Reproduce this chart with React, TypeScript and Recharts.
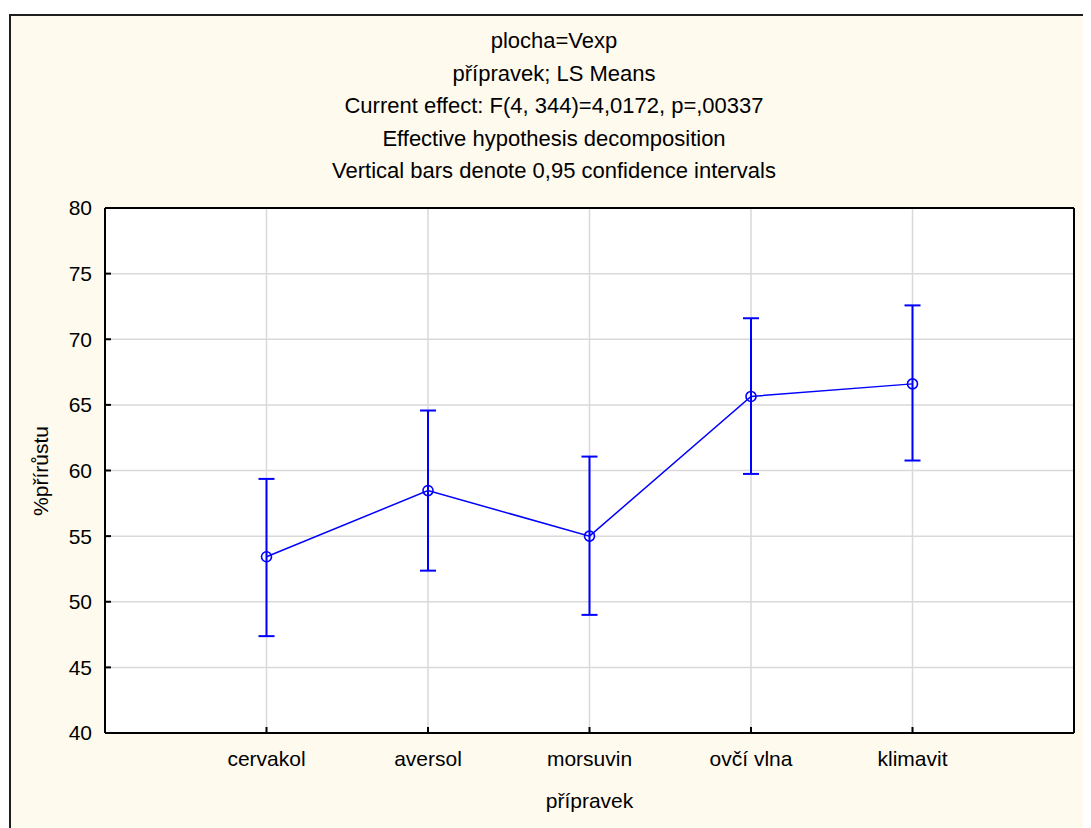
import React from 'react';
import { LineChart, Line, XAxis, YAxis, CartesianGrid, ErrorBar } from 'recharts';

const categories = ['cervakol', 'aversol', 'morsuvin', 'ovčí vlna', 'klimavit'];
const means = [53.43, 58.47, 55.0, 65.64, 66.6];
const lowerCI = [47.38, 52.37, 49.0, 59.74, 60.76];
const upperCI = [59.36, 64.57, 61.06, 71.6, 72.58];
const yTicks = [40, 45, 50, 55, 60, 65, 70, 75, 80];
const xTicks = [1, 2, 3, 4, 5];
const titleLines = [
  'plocha=Vexp',
  'přípravek; LS Means',
  'Current effect: F(4, 344)=4,0172, p=,00337',
  'Effective hypothesis decomposition',
  'Vertical bars denote 0,95 confidence intervals',
];
const xLabel = 'přípravek';
const yLabel = '%přírůstu';

const data = categories.map((c, i) => ({
  x: i + 1,
  name: c,
  mean: means[i],
  ci: [means[i] - lowerCI[i], upperCI[i] - means[i]],
}));

const FONT = '"Liberation Sans", Arial, sans-serif';
const W = 1083;
const H = 820;
const titleBaselines = [40, 72.5, 105, 137.5, 170];

export default function App() {
  return (
    <div style={{ position: 'relative', width: W, height: H, overflow: 'hidden', background: '#fff' }}>
      <div
        style={{
          position: 'absolute',
          left: 1,
          top: 6,
          width: 1200,
          height: 1000,
          border: '2px solid #1e1e1e',
          background: '#FFFAEE',
          boxSizing: 'border-box',
        }}
      />
      <div style={{ position: 'absolute', left: 0, top: 0 }}>
        <LineChart
          width={W}
          height={H}
          data={data}
          margin={{ top: 199, right: 7, bottom: 35, left: 37 }}
        >
          <CartesianGrid
            xAxisId="bottom"
            yAxisId="left"
            fill="#ffffff"
            fillOpacity={1}
            stroke="#d9d9d9"
            strokeWidth={1.5}
          />
          <XAxis
            xAxisId="top"
            orientation="top"
            type="number"
            dataKey="x"
            domain={[0, 6]}
            ticks={xTicks}
            height={1}
            tick={false}
            tickLine={false}
            axisLine={{ stroke: '#000', strokeWidth: 2 }}
          />
          <XAxis
            xAxisId="bottom"
            orientation="bottom"
            type="number"
            dataKey="x"
            domain={[0, 6]}
            ticks={xTicks}
            interval={0}
            height={60}
            tickFormatter={(v: number) => categories[v - 1] ?? ''}
            tickSize={-6}
            tickMargin={24}
            tick={{ fontSize: 21, fill: '#000', fontFamily: FONT }}
            tickLine={{ stroke: '#000', strokeWidth: 2 }}
            axisLine={{ stroke: '#000', strokeWidth: 2 }}
          />
          <YAxis
            yAxisId="left"
            orientation="left"
            type="number"
            domain={[40, 80]}
            ticks={yTicks}
            interval={0}
            width={60}
            tickSize={-6}
            tickMargin={19}
            tick={{ fontSize: 21, fill: '#000', fontFamily: FONT }}
            tickLine={{ stroke: '#000', strokeWidth: 2 }}
            axisLine={{ stroke: '#000', strokeWidth: 2 }}
          />
          <YAxis
            yAxisId="right"
            orientation="right"
            type="number"
            domain={[40, 80]}
            ticks={yTicks}
            interval={0}
            width={10}
            tickSize={-6}
            tick={false}
            tickLine={{ stroke: '#000', strokeWidth: 2 }}
            axisLine={{ stroke: '#000', strokeWidth: 2 }}
          />
          <Line
            xAxisId="bottom"
            yAxisId="left"
            type="linear"
            dataKey="mean"
            stroke="#0000ff"
            strokeWidth={1.5}
            dot={{ r: 5, stroke: '#0000ff', strokeWidth: 1.6, fill: 'none' }}
            activeDot={false}
            isAnimationActive={false}
          >
            <ErrorBar
              dataKey="ci"
              direction="y"
              width={8}
              stroke="#0000ff"
              strokeWidth={2}
              isAnimationActive={false}
            />
          </Line>
        </LineChart>
      </div>
      <svg
        width={W}
        height={H}
        style={{ position: 'absolute', left: 0, top: 0, pointerEvents: 'none' }}
      >
        {titleLines.map((t, i) => (
          <text
            key={i}
            x={546}
            y={titleBaselines[i]}
            textAnchor="middle"
            fontSize={22}
            fontFamily={FONT}
            fill="#000"
          >
            {t}
          </text>
        ))}
        <text x={581.5} y={800} textAnchor="middle" fontSize={21} fontFamily={FONT} fill="#000">
          {xLabel}
        </text>
        <text
          x={40}
          y={463}
          textAnchor="middle"
          fontSize={21}
          fontFamily={FONT}
          fill="#000"
          transform="rotate(-90 40 463)"
        >
          {yLabel}
        </text>
      </svg>
    </div>
  );
}
